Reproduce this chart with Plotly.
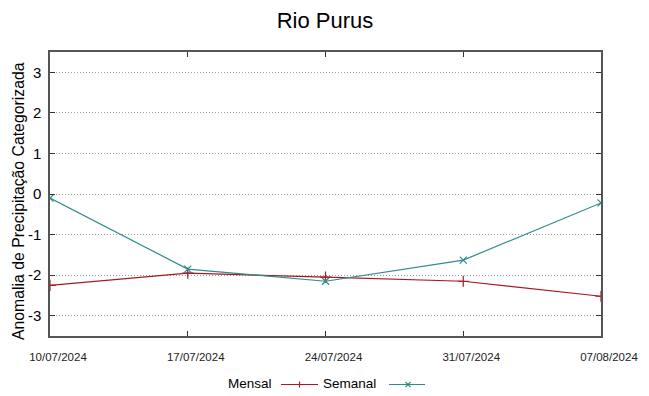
import plotly.graph_objects as go

dates = ["10/07/2024", "17/07/2024", "24/07/2024", "31/07/2024", "07/08/2024"]
mensal = [-2.25, -1.95, -2.05, -2.15, -2.52]
semanal = [-0.10, -1.85, -2.15, -1.63, -0.22]
yticks = [-3, -2, -1, 0, 1, 2, 3]
yticklabels = ["-3", "-2", "-1", "0", "1", "2", "3"]
series_names = ["Mensal", "Semanal"]

red = "#a8191e"
teal = "#2e8b8b"

W, H = 641, 388          # page body adds an 8px offset
L, R, T, B = 42, 48, 44, 60
PW, PH = W - L - R, H - T - B


def px(sx):  # screen x -> paper x
    return (sx - 8 - L) / PW


def py(sy):  # screen y -> paper y
    return (H - B - (sy - 8)) / PH


fig = go.Figure()
fig.add_trace(go.Scatter(x=dates, y=mensal, name=series_names[0], mode="lines+markers",
                         line=dict(color=red, width=1.2),
                         marker=dict(symbol="cross-thin-open", size=8, color=red,
                                     line=dict(color=red, width=1.2))))
fig.add_trace(go.Scatter(x=dates, y=semanal, name=series_names[1], mode="lines+markers",
                         line=dict(color=teal, width=1.2),
                         marker=dict(symbol="x-thin-open", size=7, color=teal,
                                     line=dict(color=teal, width=1.2))))

# gnuplot-style legend: text then sample
ly = 384.5
shapes = [
    dict(type="line", xref="paper", yref="paper", x0=px(281), x1=px(318), y0=py(ly), y1=py(ly),
         line=dict(color=red, width=1.2)),
    dict(type="line", xref="paper", yref="paper", x0=px(299.5), x1=px(299.5), y0=py(ly - 3), y1=py(ly + 3),
         line=dict(color=red, width=1.2)),
    dict(type="line", xref="paper", yref="paper", x0=px(389), x1=px(425), y0=py(ly), y1=py(ly),
         line=dict(color=teal, width=1.2)),
    dict(type="line", xref="paper", yref="paper", x0=px(405.5), x1=px(410.5), y0=py(ly - 2.5), y1=py(ly + 2.5),
         line=dict(color=teal, width=1.1)),
    dict(type="line", xref="paper", yref="paper", x0=px(405.5), x1=px(410.5), y0=py(ly + 2.5), y1=py(ly - 2.5),
         line=dict(color=teal, width=1.1)),
]
annotations = [
    dict(text=series_names[0], xref="paper", yref="paper", x=px(274), y=py(383.5), xanchor="right",
         yanchor="middle", showarrow=False, font=dict(size=13.5, color="black")),
    dict(text=series_names[1], xref="paper", yref="paper", x=px(378), y=py(383.5), xanchor="right",
         yanchor="middle", showarrow=False, font=dict(size=13.5, color="black")),
    dict(text="Anomalia de Precipitação Categorizada", xref="paper", yref="paper",
         x=px(18), y=py(201), xanchor="center", yanchor="middle", textangle=-90,
         showarrow=False, font=dict(size=15.8, color="black")),
]

fig.update_layout(
    width=W, height=H,
    margin=dict(l=L, r=R, t=T, b=B, autoexpand=False),
    paper_bgcolor="white", plot_bgcolor="white",
    title=dict(text="Rio Purus", x=(325 - 8) / W, xanchor="center",
               y=1 - 12 / H, yanchor="middle",
               yref="container", automargin=False,
               font=dict(family="Liberation Sans, Arial", size=22, color="black")),
    font=dict(family="Liberation Sans, Arial", color="black"),
    showlegend=False,
    shapes=shapes,
    annotations=annotations,
    xaxis=dict(type="category", range=[0, 4], showgrid=False, zeroline=False,
               automargin=False,
               showline=True, linecolor="#555", linewidth=1.5, mirror="ticks",
               ticks="inside", ticklen=5, tickcolor="#333", ticklabelstandoff=9,
               ticklabelshift=8,
               tickfont=dict(family="Liberation Sans, Arial", size=11.5, color="#222")),
    yaxis=dict(range=[-3.5, 3.5], tickvals=yticks, ticktext=yticklabels, showgrid=True,
               automargin=False,
               gridcolor="#a0a0a0", griddash="1px,2px", gridwidth=1, zeroline=False,
               showline=True, linecolor="#555", linewidth=1.5, mirror="ticks",
               ticks="inside", ticklen=5, tickcolor="#333", ticklabelstandoff=4,
               tickfont=dict(size=15)),
)

fig.write_html("out.html")
